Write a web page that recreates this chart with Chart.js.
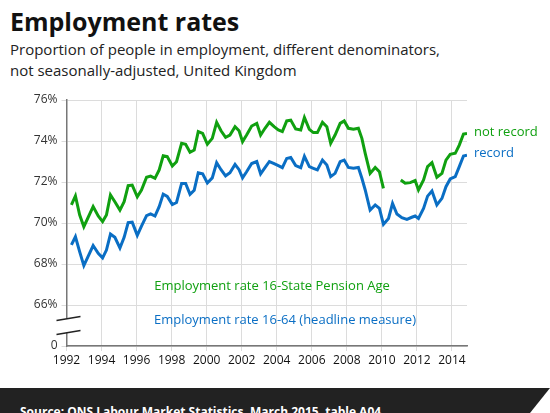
<!DOCTYPE html>
<html><head><meta charset="utf-8">
<script src="https://cdn.jsdelivr.net/npm/chart.js@4"></script>
<style>
body{margin:0;width:550px;height:413px;overflow:hidden;background:#fff;font-family:"Open Sans",sans-serif;position:relative}
#title{position:absolute;left:10px;top:4px;font-size:25px;font-weight:bold;color:#111}
#sub{position:absolute;left:10px;top:39px;font-size:15px;line-height:21px;color:#222}
#wrap{position:absolute;left:0;top:0;width:550px;height:388px}
#foot{position:absolute;left:0;top:388px;width:550px;height:25px;background:#222;color:#fff;font-weight:bold;font-size:12px}
#foot span{position:absolute;left:20px;top:15px;white-space:nowrap}
#tri{position:absolute;right:0;bottom:0;width:0;height:0;border-left:20px solid transparent;border-bottom:25px solid #fff}
</style></head><body>
<div id="title">Employment rates</div>
<div id="sub">Proportion of people in employment, different denominators,<br>not seasonally-adjusted, United Kingdom</div>
<div id="wrap"><canvas id="c" width="550" height="388"></canvas></div>
<div id="foot"><span>Source: ONS Labour Market Statistics, March 2015, table A04</span><div id="tri"></div></div>
<script>
// readings
const blueYears = [1992.28,1992.51,1992.75,1992.99,1993.52,1993.81,1994.06,1994.28,1994.51,1994.76,1995.05,1995.29,1995.52,1995.75,1996.04,1996.28,1996.57,1996.80,1997.05,1997.29,1997.52,1997.75,1998.04,1998.28,1998.57,1998.80,1999.05,1999.29,1999.52,1999.77,2000.04,2000.32,2000.57,2000.82,2001.08,2001.33,2001.62,2001.85,2002.05,2002.28,2002.57,2002.86,2003.08,2003.33,2003.58,2003.85,2004.09,2004.32,2004.57,2004.80,2005.08,2005.37,2005.58,2005.86,
  2006.09,2006.32,2006.61,2006.86,2007.08,2007.33,2007.62,2007.85,2008.09,2008.38,2008.66,2008.86,2009.05,2009.33,2009.62,2009.86,2010.09,2010.38,2010.61,2010.86,2011.14,2011.43,2011.71,2011.90,2012.09,2012.38,2012.61,2012.86,2013.14,2013.43,2013.66,2013.90,2014.19,2014.42,2014.66,2014.86];
const blueValues = [68.93,69.33,68.6,67.92,68.9,68.52,68.3,68.68,69.46,69.3,68.78,69.3,70.02,70.04,69.4,69.85,70.36,70.44,70.34,70.8,71.41,71.3,70.9,71.0,71.93,71.93,71.4,71.6,72.45,72.4,71.95,72.2,72.94,72.6,72.3,72.45,72.86,72.6,72.2,72.5,72.9,73.0,72.4,72.7,73.0,72.9,72.8,72.7,73.15,73.2,72.8,72.7,73.25,72.75,
  72.67,72.59,73.07,72.83,72.26,72.42,72.99,73.07,72.71,72.67,72.71,72.18,71.61,70.63,70.88,70.71,69.93,70.22,70.96,70.44,70.26,70.18,70.28,70.34,70.22,70.71,71.31,71.56,70.88,71.2,71.77,72.15,72.26,72.75,73.27,73.31];
const greenYears = blueYears.slice(0,70).concat([2010.09,2010.5,2011.08,2011.33,2011.62,2011.90,2012.09,2012.38,2012.61,2012.86,2013.14,2013.43,2013.66,2013.90,2014.19,2014.42,2014.66,2014.86]);
const greenValues = [70.88,71.32,70.4,69.82,70.8,70.34,70.07,70.39,71.37,71.04,70.63,71.04,71.82,71.85,71.28,71.61,72.23,72.29,72.18,72.59,73.28,73.24,72.78,72.99,73.89,73.84,73.45,73.56,74.46,74.37,73.84,74.13,74.91,74.5,74.18,74.29,74.7,74.5,73.97,74.29,74.73,74.86,74.29,74.62,74.91,74.7,74.54,74.46,74.98,75.02,74.59,74.54,75.15,74.57,
  74.41,74.41,74.91,74.7,73.89,74.29,74.86,74.98,74.62,74.57,74.62,74.13,73.4,72.42,72.71,72.5,71.69,null,72.1,71.94,71.97,72.07,71.61,72.1,72.75,72.94,72.23,72.42,73.07,73.35,73.4,73.8,74.34,74.37];
const yTicks = [64,66,68,70,72,74,76];
const GREEN = '#10a010', BLUE = '#0a6ec4';

const pts = (xs, ys) => xs.map((x, i) => ({x, y: ys[i]}));

const extras = {
  id: 'extras',
  afterDraw(ch) {
    const c = ch.ctx, a = ch.chartArea;
    c.save();
    c.font = '13px "Open Sans"';
    c.fillStyle = GREEN; c.textAlign = 'left';
    c.fillText('not record', 474, 136);
    c.fillStyle = BLUE;
    c.fillText('record', 474, 157);
    c.textAlign = 'center';
    c.fillStyle = GREEN; c.fillText('Employment rate 16-State Pension Age', 272, 290);
    c.fillStyle = BLUE; c.fillText('Employment rate 16-64 (headline measure)', 285, 324);
    // axis break
    const y = ch.scales.y.getPixelForValue(65);
    c.fillStyle = '#fff'; c.fillRect(a.left - 2, y - 7, 5, 14);
    c.strokeStyle = '#222'; c.lineWidth = 1.3;
    c.beginPath();
    c.moveTo(a.left - 10, y - 5); c.lineTo(a.left + 14, y - 9);
    c.moveTo(a.left - 10, y + 9); c.lineTo(a.left + 14, y + 5);
    c.stroke();
    c.restore();
  }
};

new Chart(document.getElementById('c'), {
  type: 'line',
  data: { datasets: [
    { data: pts(greenYears, greenValues), borderColor: GREEN, borderWidth: 3, pointRadius: 0, spanGaps: false },
    { data: pts(blueYears, blueValues), borderColor: BLUE, borderWidth: 3, pointRadius: 0 }
  ]},
  options: {
    responsive: false, animation: false,
    layout: { padding: { top: 100, right: 83, left: 0, bottom: 0 } },
    plugins: { legend: { display: false }, tooltip: { enabled: false } },
    scales: {
      x: { type: 'linear', min: 1992, max: 2014.86,
        afterBuildTicks: s => { s.ticks = []; for (let y = 1992; y <= 2014; y += 2) s.ticks.push({value: y}); },
        afterFit: s => { s.height = 42; },
        grid: { color: '#dcdcdc', tickLength: 5 },
        border: { color: '#777', width: 1.5 },
        ticks: { color: '#111', font: { size: 12, family: '"Open Sans"' }, maxRotation: 0, autoSkip: false, padding: 2, callback: v => String(v) } },
      y: { min: 64, max: 76,
        afterBuildTicks: s => { s.ticks = yTicks.map(v => ({value: v})); },
        afterFit: s => { s.width = 66.5; },
        grid: { color: '#dcdcdc', tickLength: 5 },
        border: { color: '#777', width: 1.5 },
        ticks: { color: '#333', font: { size: 12, family: '"Open Sans"' }, padding: 4, callback: v => v === 64 ? '0' : v + '%' } }
    }
  },
  plugins: [extras]
});
</script>
</body></html>
